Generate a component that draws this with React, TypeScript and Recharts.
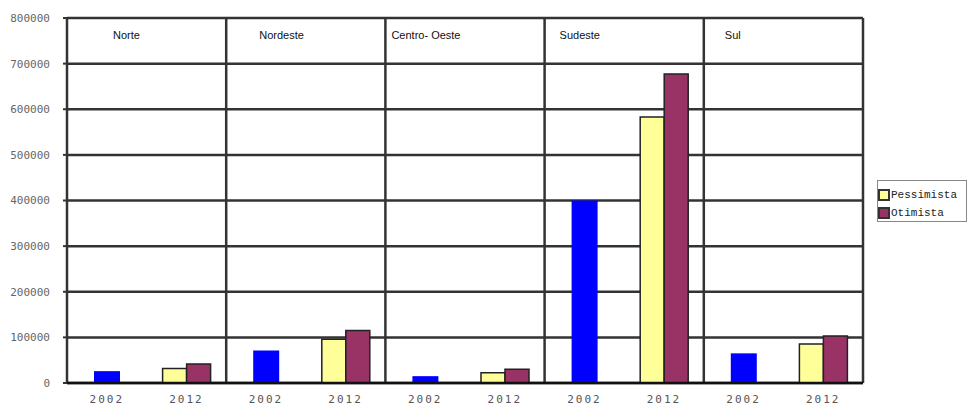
import { Bar, BarChart, CartesianGrid, ReferenceLine, XAxis, YAxis } from "recharts";

const regions = ["Norte", "Nordeste", "Centro- Oeste", "Sudeste", "Sul"];
const years = ["2002", "2012"];
const atual2002 = [26000, 71000, 15000, 400000, 65000];
const pessimista2012 = [32000, 96000, 22600, 583000, 85500];
const otimista2012 = [41600, 115000, 30000, 677000, 103000];
const yTicks = [0, 100000, 200000, 300000, 400000, 500000, 600000, 700000, 800000];
const legendNames = ["Pessimista", "Otimista"];

const data = regions.flatMap((region, i) => [
  { key: `${region}|${years[0]}`, year: years[0], atual: atual2002[i], pess: null, otim: null },
  { key: `${region}|${years[1]}`, year: years[1], atual: null, pess: pessimista2012[i], otim: otimista2012[i] },
]);

// where each region name sits inside its cell of the header table
const labelDx = [46, 33, 6, 15, 21];

const LINE = "#333";
const colors = { atual: "#0000ff", pess: "#ffff99", otim: "#993366" };

function Legenda() {
  const sw = [colors.pess, colors.otim];
  return (
    <div
      style={{
        position: "absolute",
        left: 877,
        top: 180,
        width: 90,
        height: 42,
        boxSizing: "border-box",
        border: "1px solid #888",
        background: "#fff",
        padding: "5px 0 0 0",
      }}
    >
      {legendNames.map((n, i) => (
        <div key={n} style={{ display: "flex", alignItems: "center", height: 18 }}>
          <span
            style={{
              width: 8,
              height: 8,
              background: sw[i],
              border: "2px solid #333",
              marginRight: 1,
            }}
          />
          <span style={{ fontFamily: "'Liberation Mono', monospace", fontSize: 11, color: "#222" }}>{n}</span>
        </div>
      ))}
    </div>
  );
}

export default function App() {
  const firstOfRegion = data.filter((d) => d.year === years[0]);
  return (
    <div style={{ position: "absolute", left: 0, top: 0, width: 968, height: 406, background: "#fff" }}>
      <BarChart
        width={968}
        height={406}
        data={data}
        margin={{ top: 18, right: 105, bottom: 0, left: 0 }}
        barGap={0}
      >
        <CartesianGrid vertical={false} stroke={LINE} strokeWidth={2.5} />
        <XAxis
          dataKey="key"
          height={23}
          interval={0}
          tickLine={false}
          axisLine={{ stroke: "#111", strokeWidth: 2.5 }}
          tickMargin={6}
          tickFormatter={(_v: string, i: number) => data[i].year}
          tick={{ fill: "#555", fontSize: 11, fontFamily: "'DejaVu Sans Mono', monospace", letterSpacing: 2 }}
        />
        <XAxis xAxisId="b" dataKey="key" hide />
        <YAxis
          width={67}
          domain={[0, 800000]}
          ticks={yTicks}
          interval={0}
          axisLine={false}
          tickLine={{ stroke: LINE, strokeWidth: 2 }}
          tickSize={4}
          tickMargin={13}
          tick={{ fill: "#666", fontSize: 11, fontFamily: "'DejaVu Sans Mono', monospace" }}
        />
        {firstOfRegion.map((d, i) => (
          <ReferenceLine
            key={d.key}
            x={d.key}
            position="start"
            stroke={LINE}
            strokeWidth={2.5}
            label={(p: any) => (
              <text
                x={p.viewBox.x + labelDx[i]}
                y={39}
                fill="#111"
                fontSize={11}
                fontFamily="'Liberation Sans', Arial, sans-serif"
              >
                {regions[i]}
              </text>
            )}
          />
        ))}
        <ReferenceLine x={data[data.length - 1].key} position="end" stroke={LINE} strokeWidth={2.5} />
        <Bar dataKey="atual" fill={colors.atual} barSize={26} isAnimationActive={false} />
        <Bar
          xAxisId="b"
          dataKey="pess"
          name={legendNames[0]}
          fill={colors.pess}
          stroke="#222"
          strokeWidth={1.5}
          barSize={24}
          isAnimationActive={false}
        />
        <Bar
          xAxisId="b"
          dataKey="otim"
          name={legendNames[1]}
          fill={colors.otim}
          stroke="#222"
          strokeWidth={1.5}
          barSize={24}
          isAnimationActive={false}
        />
      </BarChart>
      <Legenda />
    </div>
  );
}
